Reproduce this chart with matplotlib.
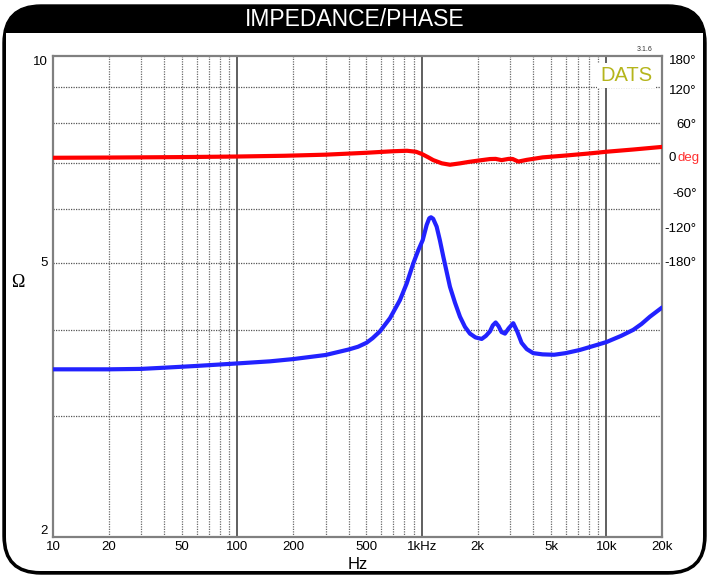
import numpy as np
import matplotlib
matplotlib.use('Agg')
from matplotlib import pyplot as plt
from matplotlib.patches import FancyBboxPatch, Rectangle
from matplotlib.transforms import IdentityTransform

plt.rcParams['font.family'] = ['Liberation Sans', 'DejaVu Sans']

# impedance curve (Hz, ohm)
imp_freq = [10, 15, 20, 30, 40, 60, 100, 150, 200, 300, 400, 450, 500, 540, 592,
            671, 760, 826, 898, 955, 1009, 1060, 1095, 1119, 1150, 1201, 1250,
            1305, 1360, 1418, 1510, 1607, 1710, 1820, 1950, 2107, 2220, 2337, 2420,
            2508, 2600, 2700, 2818, 2950, 3125, 3280, 3467, 3700, 4009, 4500, 5200,
            6000, 7184, 8500, 10000, 12000, 13970, 15500, 17200, 20000]
imp_ohm = [3.505, 3.505, 3.505, 3.51, 3.524, 3.545, 3.575, 3.60, 3.627, 3.677,
           3.745, 3.78, 3.83, 3.89, 3.98, 4.16, 4.42, 4.67, 5.00, 5.22, 5.40,
           5.68, 5.81, 5.83, 5.80, 5.65, 5.40, 5.11, 4.86, 4.62, 4.38, 4.18,
           4.04, 3.95, 3.90, 3.88, 3.92, 3.98, 4.06, 4.10, 4.05, 3.97, 3.95,
           4.02, 4.09, 3.98, 3.83, 3.75, 3.70, 3.685, 3.68, 3.70, 3.74, 3.79,
           3.84, 3.92, 4.00, 4.08, 4.18, 4.31]

# phase curve (Hz, degrees)
ph_freq = [10, 20, 50, 100, 180, 300, 500, 700, 830, 930, 1000, 1080, 1150, 1280,
           1418, 1607, 1800, 2050, 2337, 2508, 2700, 2950, 3100, 3330, 3700, 4510,
           6000, 8000, 10000, 14000, 20000]
ph_deg = [3.1, 3.5, 4.3, 5.3, 6.6, 8.5, 11.8, 14.5, 15.3, 13.5, 9.6, 4.0, -0.9,
          -6.5, -9.0, -6.6, -4.0, -1.5, 0.9, 1.2, -1.0, 1.2, 1.0, -3.5, -0.5,
          3.8, 7.0, 10.5, 13.6, 17.5, 22.0]

x_ticks = [10, 20, 50, 100, 200, 500, 1000, 2000, 5000, 10000, 20000]
x_labels = ['10', '20', '50', '100', '200', '500', '1kHz', '2k', '5k', '10k', '20k']
ph_ticks = [180, 120, 60, -60, -120, -180]

fig = plt.figure(figsize=(7.09, 5.76), dpi=100)

# outer rounded frame with black title bar
pix = IdentityTransform()
outer = FancyBboxPatch((3, 2), 703, 569, boxstyle="round,pad=0,rounding_size=38",
                       fc='black', ec='black', transform=pix, zorder=-10)
inner = FancyBboxPatch((6, 5), 697, 538, boxstyle="round,pad=0,rounding_size=34",
                       fc='white', ec='none', transform=pix, zorder=-9)
inner_top = Rectangle((6, 440), 697, 103, fc='white', ec='none', transform=pix, zorder=-8)
fig.patches.extend([outer, inner, inner_top])
fig.text(0.5, 1 - 20 / 576, 'IMPEDANCE/PHASE', color='white', fontsize=16.5,
         ha='center', va='center')

ax = fig.add_axes([53 / 709, 1 - 537 / 576, 609 / 709, 481 / 576])
ax.set_xscale('log')
ax.set_yscale('log')
ax.set_xlim(10, 20000)
ax.set_ylim(2, 10)

# grid
for dec in [10, 100, 1000, 10000]:
    for k in range(2, 10):
        f = dec * k
        if f >= 20000:
            break
        ax.axvline(f, color='#6a6a6a', lw=0.9, ls=(0, (1, 1)), zorder=1)
for f in [100, 1000, 10000]:
    ax.axvline(f, color='#444444', lw=1.2, zorder=1)
for z in range(3, 10):
    ax.axhline(z, color='#555555', lw=0.9, ls=(0, (1, 1)), zorder=1)

ax.plot(imp_freq, imp_ohm, color='#2222ff', lw=3, solid_capstyle='round',
        solid_joinstyle='round', zorder=3)

ax.set_xticks(x_ticks)
ax.set_xticklabels(x_labels)
ax.xaxis.set_minor_locator(matplotlib.ticker.NullLocator())
ax.yaxis.set_minor_locator(matplotlib.ticker.NullLocator())
ax.set_yticks([])
ax.tick_params(axis='x', length=0, pad=3, labelsize=9.5)
for s in ax.spines.values():
    s.set_color('#808080')
    s.set_linewidth(1.6)
ax.set_xlabel('Hz', fontsize=12, labelpad=3)

yt = ax.get_yaxis_transform()
ax.text(-0.008, 10, '10', transform=yt, ha='right', va='top', fontsize=9.5)
ax.text(-0.008, 5, '5', transform=yt, ha='right', va='center', fontsize=9.5)
ax.text(-0.008, 2, '2', transform=yt, ha='right', va='bottom', fontsize=9.5)
ax.text(-0.058, 4.68, 'Ω', transform=yt, ha='center', va='center', fontsize=13,
        family=['Liberation Serif', 'DejaVu Serif'])

# phase on a linear twin axis
ax2 = ax.twinx()
ax2.set_ylim(-656, 180)
ax2.set_yticks([])
for s in ax2.spines.values():
    s.set_visible(False)
ax2.plot(ph_freq, ph_deg, color='#ff0000', lw=3, solid_capstyle='round',
         solid_joinstyle='round', zorder=3)
yt2 = ax2.get_yaxis_transform()
for v in ph_ticks:
    yy = v if v != 180 else 171
    ax2.text(1.057, yy, f'{v}°', transform=yt2, ha='right', va='center', fontsize=9.5)
ax2.text(1.022, 2, '0', transform=yt2, ha='right', va='center', fontsize=9.5)
ax2.text(1.062, 2, 'deg', transform=yt2, ha='right', va='center', fontsize=9.5,
         color='#ff3030')

# DATS badge
ax2.text(0.984, 0.96, 'DATS', transform=ax2.transAxes, ha='right', va='center',
         fontsize=14.5, color='#b5b51c', zorder=5,
         bbox=dict(fc='white', ec='none', pad=2))
ax2.text(0.985, 1.006, '3.1.6', transform=ax2.transAxes, ha='right', va='bottom',
         fontsize=5, color='#333333')

fig.savefig('out.png', dpi=100)
